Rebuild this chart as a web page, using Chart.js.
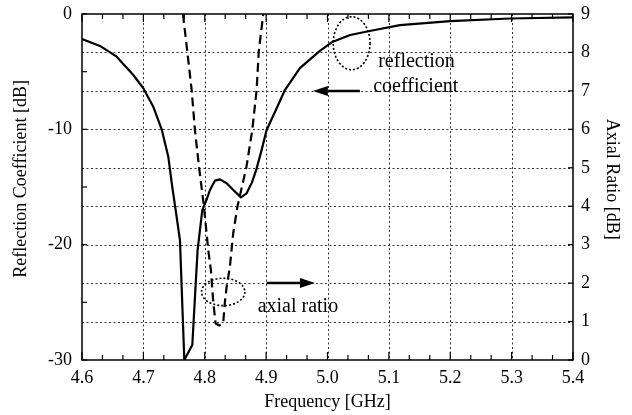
<!DOCTYPE html>
<html><head><meta charset="utf-8">
<script src="https://cdn.jsdelivr.net/npm/chart.js@4.4.0/dist/chart.umd.min.js"></script>
<style>html,body{margin:0;padding:0;background:#fff;}#wrap{width:632px;height:415px;}</style>
</head><body><div id="wrap"><canvas id="c" width="632" height="415"></canvas></div>
<script>
// Reflection coefficient [dB] vs frequency [GHz]
const rcFreq = [4.600, 4.6293, 4.6565, 4.6836, 4.6999, 4.7161, 4.7298, 4.7406, 4.747, 4.7515, 4.7596, 4.7667, 4.7797, 4.7883, 4.796, 4.803, 4.8085, 4.8166, 4.8248, 4.8357, 4.8465, 4.859, 4.8682, 4.877, 4.8845, 4.8926, 4.9008, 4.917, 4.9306, 4.955, 4.9876, 5.0086, 5.037, 5.0707, 5.118, 5.200, 5.297, 5.400];
const rcValues = [-2.17, -2.77, -3.70, -5.29, -6.44, -8.04, -10.0, -12.37, -14.97, -16.6, -19.6, -30.0, -28.7, -20.5, -17.0, -16.1, -15.26, -14.45, -14.34, -14.68, -15.26, -15.9, -15.55, -14.6, -13.4, -11.8, -10.06, -8.2, -6.59, -4.7, -3.2, -2.4, -1.82, -1.45, -0.97, -0.62, -0.39, -0.29];
// Axial ratio [dB] vs frequency [GHz]
const arFreq = [4.7645, 4.7716, 4.7787, 4.784, 4.7906, 4.7987, 4.8057, 4.810, 4.8138, 4.8177, 4.824, 4.830, 4.8329, 4.8357, 4.841, 4.8464, 4.8533, 4.868, 4.8774, 4.8845, 4.8880, 4.8953];
const arValues = [9.0, 8.02, 7.02, 5.98, 5.03, 3.99, 2.86, 2.34, 1.52, 0.95, 0.9, 0.95, 1.52, 1.91, 2.43, 3.3, 3.99, 5.03, 5.98, 7.02, 8.02, 9.0];
// Tick labels
const freqTicks = [4.6, 4.7, 4.8, 4.9, 5.0, 5.1, 5.2, 5.3, 5.4];
const rcTicks = [-30, -20, -10, 0];
const arTicks = [0, 1, 2, 3, 4, 5, 6, 7, 8, 9];

const FONT = "'Liberation Serif', 'Times New Roman', serif";
Chart.defaults.font.family = FONT;
Chart.defaults.color = '#000';

const notes = {
  ellipses: [
    {x: 5.0393, y: 8.24, rx: 0.0300, ry: 0.69},
    {x: 4.8301, y: 1.77, rx: 0.0353, ry: 0.356}
  ],
  arrows: [
    {x1: 5.0528, x2: 4.9762, y: 7},
    {x1: 4.9008, x2: 4.9795, y: 2}
  ],
  texts: [
    {t: 'reflection', x: 5.0826, y: 7.63},
    {t: 'coefficient', x: 5.0745, y: 6.98},
    {t: 'axial ratio', x: 4.8862, y: 1.26}
  ],
  titles: [
    {t: 'Reflection Coefficient [dB]', px: 21, y: -14.3, rot: -1},
    {t: 'Axial Ratio [dB]', px: 612, y: 4.7, rot: 1}
  ]
};

const deco = {
  id: 'deco',
  beforeDatasetsDraw(chart) {
    const {ctx, chartArea: a, scales} = chart;
    const xs = scales.x, y2 = scales.y2;
    ctx.save();
    ctx.strokeStyle = '#333';
    ctx.lineWidth = 1;
    ctx.setLineDash([2, 2.5]);
    freqTicks.forEach(v => {
      if (v <= freqTicks[0] || v >= freqTicks[freqTicks.length - 1]) return;
      const px = Math.round(xs.getPixelForValue(v)) + 0.5;
      ctx.beginPath(); ctx.moveTo(px, a.top); ctx.lineTo(px, a.bottom); ctx.stroke();
    });
    arTicks.forEach(v => {
      if (v <= arTicks[0] || v >= arTicks[arTicks.length - 1]) return;
      const py = Math.round(y2.getPixelForValue(v)) + 0.5;
      ctx.beginPath(); ctx.moveTo(a.left, py); ctx.lineTo(a.right, py); ctx.stroke();
    });
    ctx.restore();
  },
  afterDatasetsDraw(chart) {
    const {ctx, chartArea: a, scales} = chart;
    const xs = scales.x, ys = scales.y, y2 = scales.y2;
    ctx.save();
    ctx.setLineDash([]);
    ctx.strokeStyle = '#000';
    ctx.lineWidth = 1.5;
    ctx.strokeRect(a.left, a.top, a.right - a.left, a.bottom - a.top);
    ctx.lineWidth = 1.2;
    const x0 = freqTicks[0], x1 = freqTicks[freqTicks.length - 1];
    const nMinor = Math.round((x1 - x0) / 0.1) * 3;
    for (let i = 0; i <= nMinor; i++) {
      const v = x0 + (x1 - x0) * i / nMinor;
      const px = xs.getPixelForValue(v);
      const len = (i % 3 === 0) ? 8 : 5;
      ctx.beginPath(); ctx.moveTo(px, a.bottom); ctx.lineTo(px, a.bottom - len); ctx.stroke();
      ctx.beginPath(); ctx.moveTo(px, a.top); ctx.lineTo(px, a.top + len); ctx.stroke();
    }
    for (let v = -30; v <= 0; v += 5) {
      const py = ys.getPixelForValue(v);
      ctx.beginPath(); ctx.moveTo(a.left, py); ctx.lineTo(a.left + 5, py); ctx.stroke();
    }
    arTicks.forEach(v => {
      const py = y2.getPixelForValue(v);
      ctx.beginPath(); ctx.moveTo(a.right, py); ctx.lineTo(a.right - 5, py); ctx.stroke();
    });
    ctx.lineWidth = 1.6;
    ctx.setLineDash([2, 2]);
    notes.ellipses.forEach(e => {
      const cx = xs.getPixelForValue(e.x), cy = y2.getPixelForValue(e.y);
      const rx = Math.abs(xs.getPixelForValue(e.x + e.rx) - cx);
      const ry = Math.abs(y2.getPixelForValue(e.y + e.ry) - cy);
      ctx.beginPath(); ctx.ellipse(cx, cy, rx, ry, 0, 0, Math.PI * 2); ctx.stroke();
    });
    ctx.setLineDash([]);
    ctx.fillStyle = '#000';
    notes.arrows.forEach(r => {
      const xa = xs.getPixelForValue(r.x1), xb = xs.getPixelForValue(r.x2), py = y2.getPixelForValue(r.y);
      const dir = xb > xa ? 1 : -1;
      const head = 15;
      ctx.lineWidth = 2.5;
      ctx.beginPath(); ctx.moveTo(xa, py); ctx.lineTo(xb - dir * head, py); ctx.stroke();
      ctx.beginPath(); ctx.moveTo(xb, py); ctx.lineTo(xb - dir * head, py - 5); ctx.lineTo(xb - dir * head, py + 5); ctx.closePath(); ctx.fill();
    });
    ctx.font = '20px ' + FONT;
    ctx.textAlign = 'left';
    ctx.textBaseline = 'alphabetic';
    notes.texts.forEach(t => {
      ctx.fillText(t.t, xs.getPixelForValue(t.x), y2.getPixelForValue(t.y));
    });
    ctx.font = '18px ' + FONT;
    ctx.textAlign = 'center';
    ctx.textBaseline = 'middle';
    notes.titles.forEach(t => {
      const sc = t.rot < 0 ? ys : y2;
      ctx.save();
      ctx.translate(t.px, sc.getPixelForValue(t.y));
      ctx.rotate(t.rot * Math.PI / 2);
      ctx.fillText(t.t, 0, 0);
      ctx.restore();
    });
    ctx.restore();
  }
};

const toPts = (xs, ys) => xs.map((x, i) => ({x: x, y: ys[i]}));
const noPad = s => { s.paddingTop = 0; s.paddingBottom = 0; s.paddingLeft = 0; s.paddingRight = 0; };

new Chart(document.getElementById('c'), {
  type: 'line',
  data: {
    datasets: [
      {label: 'reflection coefficient', data: toPts(rcFreq, rcValues), yAxisID: 'y', borderColor: '#000', borderWidth: 2.2, pointRadius: 0, tension: 0, borderJoinStyle: 'round', fill: false},
      {label: 'axial ratio', data: toPts(arFreq, arValues), yAxisID: 'y2', borderColor: '#000', borderWidth: 2.2, borderDash: [9, 5], pointRadius: 0, tension: 0, fill: false}
    ]
  },
  options: {
    responsive: false,
    animation: false,
    devicePixelRatio: 1,
    layout: {padding: {top: 14, left: 0, right: 0, bottom: 0}},
    plugins: {legend: {display: false}, tooltip: {enabled: false}},
    scales: {
      x: {
        type: 'linear', min: 4.6, max: 5.4,
        afterBuildTicks: s => { s.ticks = freqTicks.map(v => ({value: v})); },
        afterFit: s => { s.height = 55; noPad(s); },
        grid: {display: false, drawTicks: false},
        border: {display: false},
        ticks: {font: {size: 18}, padding: 7, maxRotation: 0, autoSkip: false, callback: v => Number(v).toFixed(1)},
        title: {display: true, text: 'Frequency [GHz]', font: {size: 18}, padding: {top: 0, bottom: 2}}
      },
      y: {
        type: 'linear', position: 'left', min: -30, max: 0,
        afterBuildTicks: s => { s.ticks = rcTicks.map(v => ({value: v})); },
        afterFit: s => { s.width = 82; noPad(s); },
        grid: {display: false, drawTicks: false},
        border: {display: false},
        ticks: {font: {size: 18}, padding: 10, autoSkip: false}
      },
      y2: {
        type: 'linear', position: 'right', min: 0, max: 9,
        afterBuildTicks: s => { s.ticks = arTicks.map(v => ({value: v})); },
        afterFit: s => { s.width = 59; noPad(s); },
        grid: {display: false, drawTicks: false},
        border: {display: false},
        ticks: {font: {size: 18}, padding: 8, autoSkip: false}
      }
    }
  },
  plugins: [deco]
});
</script></body></html>
